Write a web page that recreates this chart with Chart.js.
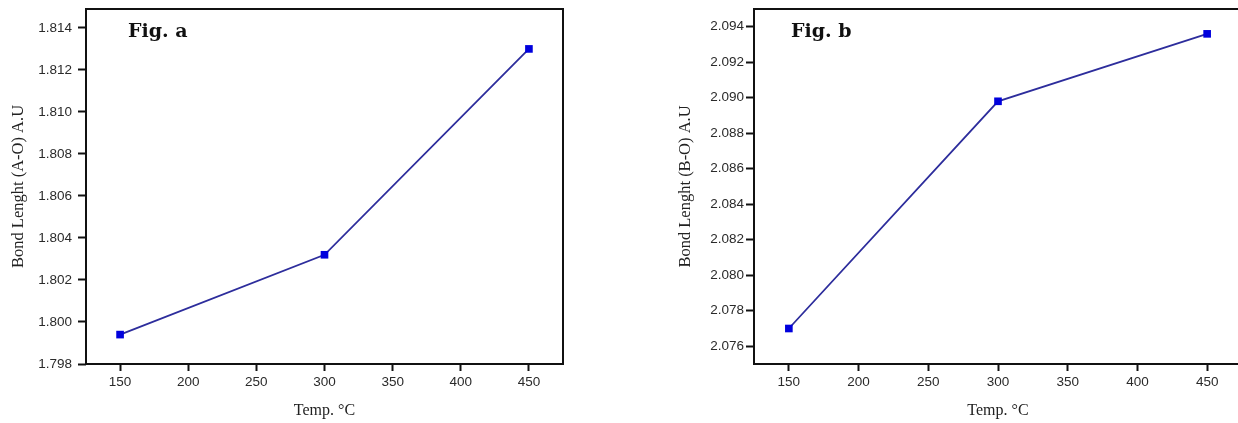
<!DOCTYPE html>
<html>
<head>
<meta charset="utf-8">
<script src="https://cdn.jsdelivr.net/npm/chart.js@4.4.1/dist/chart.umd.min.js"></script>
<style>
  html, body { margin: 0; padding: 0; background: #fff; overflow: hidden; width: 1238px; height: 423px; }
  .box { position: absolute; top: 0; height: 423px; }
  #wa { left: 0; width: 600px; }
  #wb { left: 640px; width: 640px; }
</style>
</head>
<body>
<div class="box" id="wa"><canvas id="ca"></canvas></div>
<div class="box" id="wb"><canvas id="cb"></canvas></div>
<script>
// ---- data ----
const tempA = [150, 300, 450];
const bondAO = [1.7994, 1.8032, 1.8130];
const tempB = [150, 300, 450];
const bondBO = [2.0770, 2.0898, 2.0936];

const xTickValues = [150, 200, 250, 300, 350, 400, 450];
const yTicksA = [1.798, 1.800, 1.802, 1.804, 1.806, 1.808, 1.810, 1.812, 1.814];
const yTicksB = [2.076, 2.078, 2.080, 2.082, 2.084, 2.086, 2.088, 2.090, 2.092, 2.094];

const xTitle = 'Temp. \u00B0C';
const yTitleA = 'Bond Lenght (A-O) A.U';
const yTitleB = 'Bond Lenght (B-O) A.U';
const figA = 'Fig. a';
const figB = 'Fig. b';

const framePlugin = {
  id: 'frame',
  afterDraw(chart, args, opts) {
    const {ctx, chartArea: a} = chart;
    ctx.save();
    ctx.strokeStyle = '#111';
    ctx.lineWidth = 2;
    ctx.strokeRect(a.left, a.top, a.right - a.left, a.bottom - a.top);
    ctx.fillStyle = '#111';
    ctx.font = 'bold 19px "DejaVu Serif", "Liberation Serif", serif';
    ctx.textBaseline = 'alphabetic';
    ctx.textAlign = 'left';
    ctx.fillText(opts.text, a.left + opts.dx, opts.y);
    ctx.restore();
  }
};

function makeChart(id, xs, ys, yTicks, yMin, yMax, yTitle, fig, cfg) {
  const ctx = document.getElementById(id);
  return new Chart(ctx, {
    type: 'line',
    data: {
      datasets: [{
        data: xs.map((x, i) => ({x: x, y: ys[i]})),
        borderColor: '#2d2d9c',
        borderWidth: 1.8,
        pointStyle: 'rect',
        pointRadius: 5.4,
        pointBackgroundColor: '#0000dd',
        pointBorderColor: '#0000dd',
        pointBorderWidth: 0,
        tension: 0,
        clip: false
      }]
    },
    plugins: [framePlugin],
    options: {
      responsive: true,
      maintainAspectRatio: false,
      animation: false,
      layout: { padding: { left: 0, top: 9, right: cfg.padRight, bottom: 0 } },
      plugins: {
        legend: { display: false },
        tooltip: { enabled: false },
        frame: { text: fig, dx: cfg.figDx, y: 37 }
      },
      scales: {
        x: {
          type: 'linear',
          min: 125, max: 475,
          afterFit(s) { s.height = 59; s.paddingLeft = 0; s.paddingRight = 0; },
          afterBuildTicks(s) { s.ticks = xTickValues.map(v => ({value: v})); },
          border: { display: false },
          grid: { drawOnChartArea: false, drawTicks: true, tickLength: 7, tickWidth: 2, tickColor: '#111' },
          ticks: { autoSkip: false, maxRotation: 0, padding: 3, color: '#2a2a2a',
                   font: { family: '"Liberation Sans", Arial, sans-serif', size: 13.5 },
                   callback: v => String(v) },
          title: { display: true, text: xTitle, color: '#222',
                   font: { family: '"Liberation Serif", "Times New Roman", serif', size: 16 },
                   padding: { top: 0, bottom: 3 } }
        },
        y: {
          type: 'linear',
          min: yMin, max: yMax,
          afterFit(s) { s.width = cfg.yWidth; s.paddingTop = 0; s.paddingBottom = 0; },
          afterBuildTicks(s) { s.ticks = yTicks.map(v => ({value: v})); },
          border: { display: false },
          grid: { drawOnChartArea: false, drawTicks: true, tickLength: 8, tickWidth: 2, tickColor: '#111' },
          ticks: { autoSkip: false, padding: cfg.yPad, color: '#2a2a2a',
                   font: { family: '"Liberation Sans", Arial, sans-serif', size: 13.5 },
                   callback: v => Number(v).toFixed(3) },
          title: { display: true, text: yTitle, color: '#222',
                   font: { family: '"Liberation Serif", "Times New Roman", serif', size: 16.5 },
                   padding: { top: cfg.yTitlePad, bottom: 0 } }
        }
      }
    }
  });
}

makeChart('ca', tempA, bondAO, yTicksA, 1.798, 1.8149, yTitleA, figA,
  { padRight: 37, yWidth: 86, yPad: 6, yTitlePad: 9, figDx: 42 });
makeChart('cb', tempB, bondBO, yTicksB, 2.075, 2.095, yTitleB, figB,
  { padRight: 38, yWidth: 114, yPad: 2, yTitlePad: 36, figDx: 37 });
</script>
</body>
</html>
